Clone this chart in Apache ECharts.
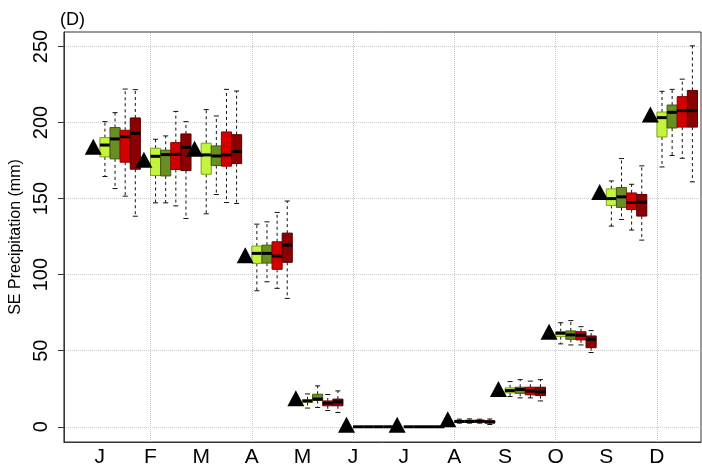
<!DOCTYPE html>
<html><head><meta charset="utf-8">
<script src="https://cdn.jsdelivr.net/npm/echarts@6/dist/echarts.min.js"></script>
<style>html,body{margin:0;padding:0;background:#fff}#c{width:702px;height:473px}</style>
</head><body><div id="c"></div>
<script>
// ---- data ----
const months = ['J','F','M','A','M','J','J','A','S','O','S','D'];
const monthPos = [1,2,3,4,5,6,7,8,9,10,11,12];
const yTicks = [0,50,100,150,200,250];
const xGridLines = [2,4,6,8,10,12];
const observed = [184, 175.6, 182.7, 112.8, 18.7, 1.3, 1.3, 5.0, 24.9, 62.5, 154.3, 205.3];
// each entry: [min, Q1, median, Q3, max]
const scenarioA = [
  [164.5,177.4,185.2,190.1,200.6],[147.2,165.2,177.8,183.1,189.0],[140.0,166.0,178.7,186.4,208.5],
  [89.4,107.4,114.0,118.8,133.2],[12.3,16.0,17.0,17.7,21.6],[0,0,0,0,0],[0,0,0,0,0],
  [2.4,3.0,3.5,4.0,5.0],[19.9,22.3,23.8,25.6,29.7],[54.5,59.3,61.5,62.5,68.4],
  [131.9,145.5,150.0,156.4,161.6],[170.8,190.5,203.2,206.9,220.5]];
const scenarioB = [
  [156.6,176.1,189.2,196.7,206.5],[147.2,164.9,178.9,181.8,191.2],[152.7,171.7,178.0,184.6,204.3],
  [95.3,107.6,114.0,119.4,134.7],[12.7,17.3,18.2,21.4,26.9],[0,0,0,0,0],[0,0,0,0,0],
  [2.4,3.0,3.5,4.3,5.2],[19.0,22.0,24.5,26.0,31.0],[53.8,57.5,60.4,63.0,69.8],
  [136.3,144.2,151.1,157.3,176.3],[178.3,196.4,206.7,211.5,221.8]];
const scenarioC = [
  [151.6,173.9,190.7,194.9,222.0],[145.2,169.1,179.1,186.8,207.3],[147.4,171.3,178.7,193.8,221.8],
  [91.0,103.5,112.2,121.6,140.9],[10.7,13.8,15.5,17.0,21.2],[0,0,0,0,0],[0,0,0,0,0],
  [2.4,3.2,3.6,4.3,5.0],[19.0,21.0,23.5,26.0,30.0],[53.8,57.1,60.2,62.5,65.8],
  [129.3,142.8,147.4,153.7,159.4],[176.5,197.0,207.8,217.0,228.5]];
const scenarioD = [
  [138.4,169.3,192.9,203.0,221.6],[136.9,168.4,183.7,192.5,200.6],[146.8,173.0,180.9,192.0,220.7],
  [84.4,108.1,119.4,127.3,148.4],[9.4,13.8,16.4,18.2,23.6],[0,0,0,0,0],[0,0,0,0,0],
  [1.5,2.6,3.1,4.0,5.1],[17.0,20.5,23.0,26.0,31.0],[48.8,52.0,57.5,59.7,63.2],
  [122.7,138.5,147.6,152.7,171.5],[161.0,197.0,207.8,221.1,250.4]];

// ---- chart ----
const scenarios = [scenarioA, scenarioB, scenarioC, scenarioD];
const fills = ['#C3F53C', '#6B8E23', '#D40000', '#8B0000'];
const strokes = ['#7fa020', '#3f5a12', '#8a0000', '#550000'];
const offsets = [0.1, 0.3, 0.5, 0.7];
const BOXW = 0.2;

function makeRender(fill, stroke) {
  return function (params, api) {
    const x = api.value(0);
    const pMin = api.coord([x, api.value(1)]);
    const pQ1 = api.coord([x, api.value(2)]);
    const pMed = api.coord([x, api.value(3)]);
    const pQ3 = api.coord([x, api.value(4)]);
    const pMax = api.coord([x, api.value(5)]);
    const hw = api.size([BOXW, 0])[0] / 2;
    const cw = hw * 0.5;
    const cx = pMed[0];
    const dash = {stroke: '#111', lineWidth: 1, lineDash: [3, 3]};
    const solid = {stroke: '#111', lineWidth: 1};
    return {
      type: 'group',
      children: [
        {type: 'line', shape: {x1: cx, y1: pQ3[1], x2: cx, y2: pMax[1]}, style: dash},
        {type: 'line', shape: {x1: cx, y1: pQ1[1], x2: cx, y2: pMin[1]}, style: dash},
        {type: 'line', shape: {x1: cx - cw, y1: pMax[1], x2: cx + cw, y2: pMax[1]}, style: solid},
        {type: 'line', shape: {x1: cx - cw, y1: pMin[1], x2: cx + cw, y2: pMin[1]}, style: solid},
        {type: 'rect', shape: {x: cx - hw, y: pQ3[1], width: 2 * hw, height: pQ1[1] - pQ3[1]},
          style: {fill: fill, stroke: stroke, lineWidth: 1}},
        {type: 'line', shape: {x1: cx - hw, y1: pMed[1], x2: cx + hw, y2: pMed[1]},
          style: {stroke: '#000', lineWidth: 3}}
      ]
    };
  };
}

const series = [];
series.push({
  type: 'scatter', data: [], silent: true, z: 0,
  markLine: {
    silent: true, z: 0, symbol: ['none', 'none'], label: {show: false},
    lineStyle: {type: 'dotted', color: '#c8c8c8', width: 1},
    data: xGridLines.map(v => ({xAxis: v})).concat(yTicks.map(v => ({yAxis: v})))
  }
});
scenarios.forEach((sc, k) => {
  series.push({
    type: 'custom',
    renderItem: makeRender(fills[k], strokes[k]),
    encode: {x: 0, y: [1, 2, 3, 4, 5]},
    data: monthPos.map((m, i) => [m + offsets[k]].concat(sc[i])),
    z: 3, silent: true
  });
});
series.push({
  type: 'scatter', symbol: 'triangle', symbolSize: [17, 16],
  itemStyle: {color: '#000', opacity: 1},
  data: monthPos.map((m, i) => [m - 0.13, observed[i]]),
  z: 4, silent: true
});

const chart = echarts.init(document.getElementById('c'), null, {renderer: 'canvas'});
chart.setOption({
  animation: false,
  backgroundColor: '#fff',
  title: {text: '(D)', left: 55, top: 6,
    textStyle: {fontFamily: 'Liberation Sans', fontSize: 18, fontWeight: 'normal', color: '#000'}},
  grid: {left: 55, right: 1, top: 32, bottom: 31, show: true, borderColor: '#333', borderWidth: 1},
  xAxis: {
    type: 'value', min: 0.29, max: 12.87,
    axisLine: {show: true, onZero: false, lineStyle: {color: '#333'}},
    axisTick: {show: false},
    splitLine: {show: false},
    axisLabel: {
      customValues: monthPos,
      formatter: v => months[Math.round(v) - 1],
      fontFamily: 'Liberation Sans', fontSize: 21, color: '#000', margin: 5
    }
  },
  yAxis: {
    type: 'value', min: -10, max: 259.5,
    name: 'SE Precipitation (mm)', nameLocation: 'middle', nameGap: 30, nameRotate: 90,
    nameTextStyle: {fontFamily: 'Liberation Sans', fontSize: 16, color: '#000'},
    axisLine: {show: true, onZero: false, lineStyle: {color: '#333'}},
    axisTick: {show: true, customValues: yTicks, length: 6, lineStyle: {color: '#333'}},
    splitLine: {show: false},
    axisLabel: {
      customValues: yTicks, rotate: 90,
      fontFamily: 'Liberation Sans', fontSize: 20, color: '#000', margin: 12
    }
  },
  series: series
});
</script></body></html>
